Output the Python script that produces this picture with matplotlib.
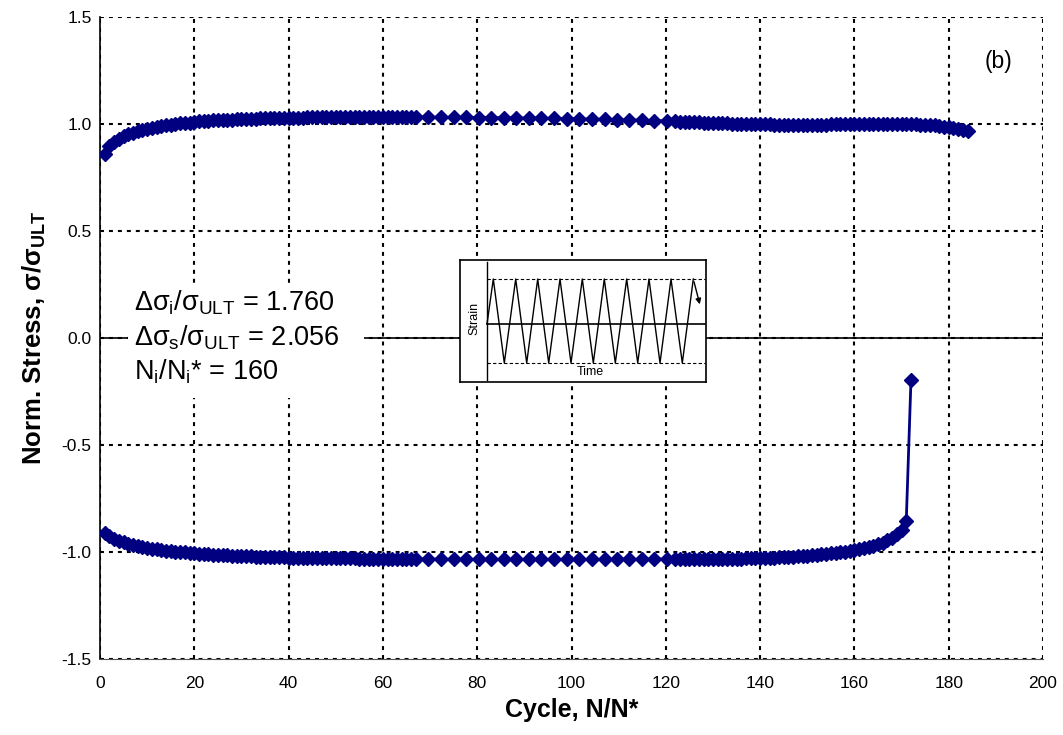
import numpy as np
import matplotlib
matplotlib.use("Agg")
import matplotlib.pyplot as plt
from matplotlib.patches import Rectangle

plt.rcParams['font.family'] = ['Liberation Sans', 'DejaVu Sans']
plt.rcParams['mathtext.fontset'] = 'custom'
plt.rcParams['mathtext.rm'] = 'Liberation Sans'
plt.rcParams['mathtext.it'] = 'Liberation Sans'
plt.rcParams['mathtext.bf'] = 'Liberation Sans:bold'

# cycle numbers (N/N*)
cyc_a = list(range(1, 68))
cyc_b = [69.6, 72.3, 75.0, 77.6, 80.3, 83.0, 85.6, 88.3, 91.0, 93.6,
         96.3, 99.0, 101.6, 104.3, 107.0, 109.6, 112.3, 115.0, 117.6, 120.3]
cyc_max = cyc_a + cyc_b + list(range(122, 185))
cyc_min = cyc_a + cyc_b + list(range(122, 173))

# peak (tension) normalised stress
peak_max = [0.858, 0.895, 0.915, 0.930, 0.942, 0.952, 0.960, 0.967, 0.973, 0.978,
            0.983, 0.987, 0.991, 0.994, 0.997, 1.000, 1.003, 1.005, 1.007, 1.010,
            1.012, 1.014, 1.015, 1.017, 1.018, 1.019, 1.020, 1.021, 1.022, 1.023,
            1.024, 1.025, 1.025, 1.026, 1.027, 1.027, 1.028, 1.028, 1.029, 1.029,
            1.030, 1.030, 1.030, 1.031, 1.031, 1.031, 1.032, 1.032, 1.032, 1.032,
            1.033, 1.033, 1.033, 1.033, 1.033, 1.034, 1.034, 1.034, 1.034, 1.034,
            1.034, 1.034, 1.034, 1.033, 1.033, 1.033, 1.033,
            1.032, 1.032, 1.031, 1.031, 1.030, 1.030, 1.029, 1.028, 1.028, 1.027,
            1.026, 1.025, 1.024, 1.023, 1.022, 1.020, 1.019, 1.018, 1.016, 1.015,
            1.012, 1.011, 1.010, 1.009, 1.008, 1.008, 1.007, 1.006, 1.005, 1.004,
            1.004, 1.003, 1.002, 1.002, 1.001, 1.000, 1.000, 0.999, 0.999, 0.998,
            0.998, 0.997, 0.997, 0.997, 0.997, 0.997, 0.997, 0.997, 0.997, 0.997,
            0.997, 0.997, 0.997, 0.998, 0.998, 0.998, 0.998, 0.999, 0.999, 0.999,
            0.999, 1.000, 1.000, 1.000, 1.000, 1.000, 1.000, 1.000, 1.000, 0.999,
            0.999, 0.998, 0.997, 0.996, 0.995, 0.993, 0.991, 0.988, 0.985, 0.981,
            0.977, 0.972, 0.965]

# valley (compression) normalised stress
peak_min = [-0.910, -0.925, -0.937, -0.947, -0.955, -0.962, -0.968, -0.973, -0.977, -0.981,
            -0.985, -0.988, -0.991, -0.994, -0.996, -0.998, -1.000, -1.002, -1.004, -1.006,
            -1.008, -1.010, -1.011, -1.013, -1.014, -1.015, -1.016, -1.017, -1.018, -1.019,
            -1.020, -1.021, -1.022, -1.022, -1.023, -1.024, -1.024, -1.025, -1.025, -1.026,
            -1.026, -1.027, -1.027, -1.027, -1.028, -1.028, -1.028, -1.029, -1.029, -1.029,
            -1.030, -1.030, -1.030, -1.030, -1.031, -1.031, -1.031, -1.031, -1.031, -1.032,
            -1.032, -1.032, -1.032, -1.032, -1.033, -1.033, -1.033,
            -1.033, -1.034, -1.034, -1.034, -1.035, -1.035, -1.035, -1.035, -1.035, -1.035,
            -1.035, -1.035, -1.035, -1.035, -1.034, -1.034, -1.034, -1.034, -1.033, -1.033,
            -1.033, -1.033, -1.033, -1.033, -1.033, -1.033, -1.033, -1.033, -1.033, -1.032,
            -1.032, -1.032, -1.032, -1.031, -1.031, -1.030, -1.030, -1.029, -1.029, -1.028,
            -1.027, -1.026, -1.025, -1.024, -1.023, -1.022, -1.020, -1.019, -1.017, -1.015,
            -1.013, -1.011, -1.009, -1.007, -1.004, -1.001, -0.998, -0.995, -0.991, -0.987,
            -0.982, -0.977, -0.971, -0.964, -0.956, -0.946, -0.934, -0.918, -0.897, -0.855,
            -0.196]

x_ticks = [0, 20, 40, 60, 80, 100, 120, 140, 160, 180, 200]
y_ticks = [-1.5, -1.0, -0.5, 0.0, 0.5, 1.0, 1.5]

navy = '#000080'

fig = plt.figure(figsize=(10.63, 7.35), dpi=100)
ax = fig.add_axes([100/1063, 76/735, 943/1063, 642/735])

ax.set_xlim(0, 200)
ax.set_ylim(-1.5, 1.5)
ax.set_xticks(x_ticks)
ax.set_yticks(y_ticks)
ax.set_yticklabels(['%.1f' % v for v in y_ticks])
ax.tick_params(labelsize=12.5, direction='out', length=0, width=1)
ax.tick_params(axis='x', pad=12)
ax.tick_params(axis='y', pad=6)
ax.grid(True, color='black', linewidth=1.5, linestyle=(0, (1.9, 2.4)), zorder=0)
ax.set_axisbelow(True)
for s in ['top', 'right']:
    ax.spines[s].set_visible(False)
ax.spines['left'].set_linewidth(1.2)
ax.spines['bottom'].set_color('#555555')

ax.axhline(0, color='black', linewidth=1.2, zorder=1)

ax.plot(cyc_max, peak_max, color=navy, marker='D', markersize=6.8, linewidth=2, zorder=3)
ax.plot(cyc_min, peak_min, color=navy, marker='D', markersize=6.8, linewidth=2, zorder=3)

ax.set_xlabel('Cycle, N/N*', fontsize=18, fontweight='bold', labelpad=5)
ax.set_ylabel(r'Norm. Stress, $\mathbf{\sigma/\sigma_{ULT}}$', fontsize=18.5,
              fontweight='bold', labelpad=10)

ax.text(0.953, 0.93, '(b)', transform=ax.transAxes, fontsize=16.5, ha='center', va='center')

# annotation box
ax.add_patch(Rectangle((6, -0.28), 50, 0.53, facecolor='white', edgecolor='none', zorder=2))
ax.text(7.3, 0.164, r'$\Delta\sigma_i/\sigma_{ULT}$ = 1.760', fontsize=19.5, va='center', zorder=4)
ax.text(7.3, 0.0, r'$\Delta\sigma_s/\sigma_{ULT}$ = 2.056', fontsize=19.5, va='center', zorder=4)
ax.text(7.3, -0.159, r'$N_i/N_i$* = 160', fontsize=19.5, va='center', zorder=4)

# loading schematic inset
ins = fig.add_axes([460/1063, 1 - 382/735, 246/1063, 122/735])
ins.set_xlim(0, 246)
ins.set_ylim(122, 0)
ins.set_xticks([])
ins.set_yticks([])
for s in ins.spines.values():
    s.set_linewidth(1.2)
ins.plot([27, 27], [2, 120], color='black', lw=1)
ins.plot([27, 245], [64, 64], color='black', lw=1.2)
ins.plot([27, 245], [19, 19], color='black', lw=0.8, ls=(0, (3, 2)))
ins.plot([27, 245], [103, 103], color='black', lw=0.8, ls=(0, (3, 2)))
tops = [33.3, 55.7, 77.7, 100, 122.3, 144.3, 166.7, 189, 211, 233.3]
bots = [44.3, 66.7, 88.7, 111, 133.3, 155.3, 177.7, 200, 222.3]
wx = [27]
wy = [64]
for i, t in enumerate(tops):
    wx.append(t)
    wy.append(19)
    if i < len(bots):
        wx.append(bots[i])
        wy.append(103)
ins.plot(wx, wy, color='black', lw=1)
ins.annotate('', xy=(240.5, 47), xytext=(233.3, 19),
             arrowprops=dict(arrowstyle='-|>', color='black', lw=1, mutation_scale=8))
ins.text(14, 58, 'Strain', rotation=90, fontsize=9, ha='center', va='center')
ins.text(130, 112, 'Time', fontsize=9, ha='center', va='center')

fig.savefig('out.png', dpi=100)
